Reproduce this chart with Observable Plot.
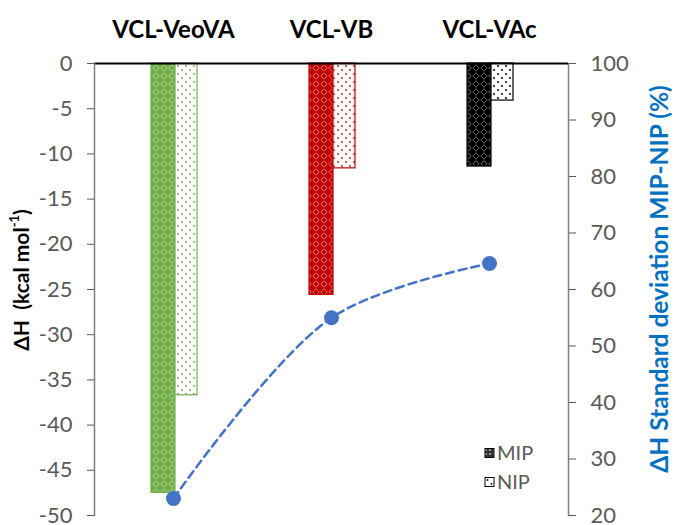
<!DOCTYPE html>
<html><head><meta charset="utf-8">
<script src="https://cdn.jsdelivr.net/npm/d3@7"></script>
<script src="https://cdn.jsdelivr.net/npm/@observablehq/plot@0.6"></script>
<style>body{margin:0;background:#fff;} #chart{position:relative;width:677px;height:525px;}</style>
</head><body><div id="chart"></div>
<script>
// ---- data ----
const groups = ["VCL-VeoVA", "VCL-VB", "VCL-VAc"];
const mipValues = [-47.5, -25.6, -11.4];
const nipValues = [-36.7, -11.6, -4.1];
const stdevPercent = [23, 55, 64.6];
const groupColors = ["#70AD47", "#C00000", "#000000"];
const nipDotColors = ["#8c9a86", "#7a4a4a", "#000000"];
const leftTicks = d3.range(-50, 1, 5);
const rightTicks = d3.range(20, 101, 10);
const seriesNames = ["MIP", "NIP"];

// mapping of the right (percent) axis onto the left scale
const pctToLeft = d3.scaleLinear([20, 100], [-50, 0]);

const mipRows = groups.map((g, i) => ({group: g, value: mipValues[i]}));
const nipRows = groups.map((g, i) => ({group: g, value: nipValues[i]}));
const lineRows = groups.map((g, i) => ({group: g, pct: stdevPercent[i]}));

const marks = [];
groups.forEach((g, i) => {
  marks.push(Plot.barY(mipRows.filter(d => d.group === g), {
    x: "group", y: "value", fill: `url(#mip-${i})`, stroke: groupColors[i], strokeWidth: 1.2,
    insetLeft: 57, insetRight: 77
  }));
  marks.push(Plot.barY(nipRows.filter(d => d.group === g), {
    x: "group", y: "value", fill: `url(#nip-${i})`, stroke: groupColors[i], strokeWidth: 1.2,
    insetLeft: 81, insetRight: 55
  }));
});

const chart = Plot.plot({
  width: 677, height: 525,
  marginTop: 63, marginBottom: 10, marginLeft: 94, marginRight: 109,
  style: {fontFamily: "Lato, 'Open Sans', sans-serif", fontSize: "22px", background: "#fff"},
  x: {type: "band", domain: groups, padding: 0, axis: null},
  y: {domain: [-50, 0], axis: null},
  marks: [
    ...marks,
    Plot.ruleY([0], {stroke: "#000", strokeWidth: 2}),
    Plot.frame({anchor: "left", stroke: "#7f7f7f", strokeWidth: 1.5}),
    Plot.frame({anchor: "right", stroke: "#7f7f7f", strokeWidth: 1.5}),
    Plot.axisY(leftTicks, {anchor: "left", tickSize: 7, tickPadding: 15, stroke: "#595959", fill: "#595959",
      tickFormat: d => String(d), fontSize: 22, label: null}),
    Plot.axisY(rightTicks.map(pctToLeft), {anchor: "right", tickSize: 7, tickPadding: 15, stroke: "#595959", fill: "#595959",
      tickFormat: d => String(Math.round(pctToLeft.invert(d))), fontSize: 22, label: null}),
    Plot.axisX(groups, {anchor: "top", tickSize: 0, tickPadding: 26, fill: "#000", fontWeight: "bold", fontSize: 24, label: null}),
    Plot.line(lineRows, {x: "group", y: d => pctToLeft(d.pct), stroke: "#4472C4", strokeWidth: 2.5,
      strokeDasharray: "8,5", curve: "catmull-rom"}),
    Plot.dot(lineRows, {x: "group", y: d => pctToLeft(d.pct), r: 7.5, fill: "#4472C4", stroke: "none"})
  ]
});

const svg = d3.select(chart);
const defs = svg.insert("defs", ":first-child");
groupColors.forEach((c, i) => {
  const p = defs.append("pattern").attr("id", `mip-${i}`).attr("patternUnits", "userSpaceOnUse")
    .attr("width", 8).attr("height", 8);
  p.append("rect").attr("width", 8).attr("height", 8).attr("fill", c);
  p.append("path").attr("d", "M4,0.8 L7.2,4 L4,7.2 L0.8,4 Z").attr("fill", "none")
    .attr("stroke", "#fff").attr("stroke-opacity", 0.45).attr("stroke-width", 1);
  p.append("circle").attr("cx", 4).attr("cy", 4).attr("r", 1).attr("fill", c);
  const q = defs.append("pattern").attr("id", `nip-${i}`).attr("patternUnits", "userSpaceOnUse")
    .attr("width", 8).attr("height", 8);
  q.append("rect").attr("width", 8).attr("height", 8).attr("fill", i === 1 ? "#fff6f6" : "#fff");
  q.append("circle").attr("cx", 2).attr("cy", 2).attr("r", 1).attr("fill", nipDotColors[i]);
  q.append("circle").attr("cx", 6).attr("cy", 6).attr("r", 1).attr("fill", nipDotColors[i]);
});
// legend pattern (black)
{
  const p = defs.append("pattern").attr("id", "leg-mip").attr("patternUnits", "userSpaceOnUse").attr("width", 4).attr("height", 4);
  p.append("rect").attr("width", 4).attr("height", 4).attr("fill", "#333");
  p.append("circle").attr("cx", 2).attr("cy", 2).attr("r", 1).attr("fill", "#bbb");
}

// axis titles
const leftTitle = svg.append("text").attr("transform", "translate(24,280) rotate(-90)")
  .attr("text-anchor", "middle").attr("dominant-baseline", "middle")
  .attr("font-weight", "bold").attr("font-size", 21).attr("fill", "#000");
leftTitle.append("tspan").text("ΔH  (kcal mol");
leftTitle.append("tspan").attr("font-size", 13).attr("dy", -8).text("-1");
leftTitle.append("tspan").attr("dy", 8).text(")");

svg.append("text").attr("transform", "translate(662,279) rotate(-90)")
  .attr("text-anchor", "middle").attr("dominant-baseline", "middle")
  .attr("font-weight", "bold").attr("font-size", 24.5).attr("fill", "#0070C0")
  .text("ΔH Standard deviation MIP-NIP (%)");

// legend
const leg = svg.append("g");
const legY = [453, 482];
seriesNames.forEach((s, i) => {
  const gy = legY[i];
  if (i === 0) {
    leg.append("rect").attr("x", 485).attr("y", gy - 4.5).attr("width", 9).attr("height", 9)
      .attr("fill", "url(#leg-mip)").attr("stroke", "#000").attr("stroke-width", 1);
  } else {
    leg.append("rect").attr("x", 485).attr("y", gy - 4.5).attr("width", 9).attr("height", 9)
      .attr("fill", "#fff").attr("stroke", "#000").attr("stroke-width", 1);
    leg.append("circle").attr("cx", 487.5).attr("cy", gy - 2).attr("r", 0.9).attr("fill", "#000");
    leg.append("circle").attr("cx", 491.5).attr("cy", gy + 2).attr("r", 0.9).attr("fill", "#000");
  }
  leg.append("text").attr("x", 497).attr("y", gy).attr("dy", "0.35em").attr("text-anchor", "start")
    .attr("font-size", 20).attr("fill", "#595959").text(s);
});

document.getElementById("chart").appendChild(chart);
</script>
</body></html>
